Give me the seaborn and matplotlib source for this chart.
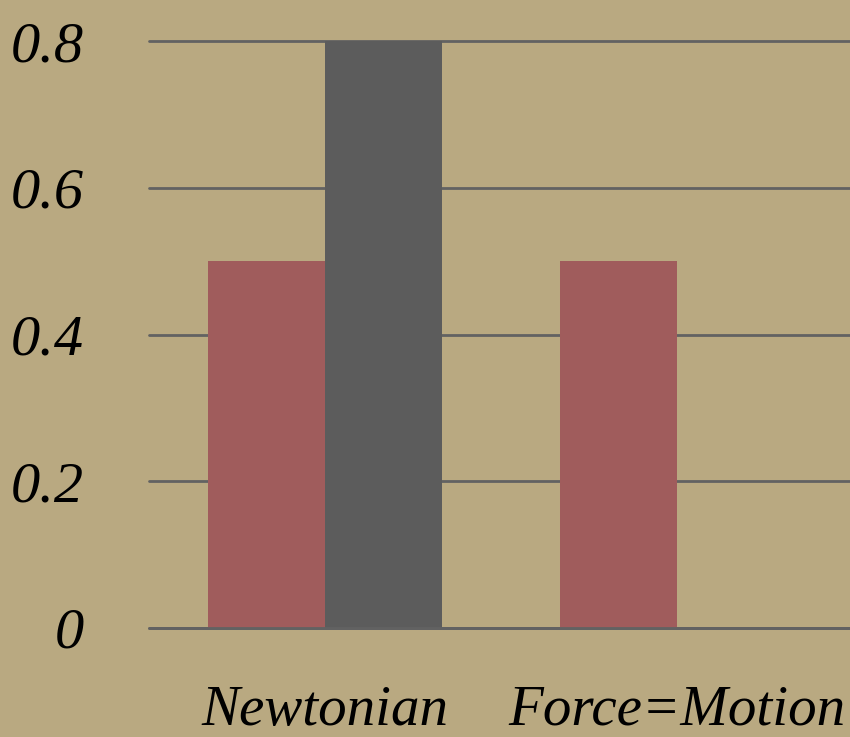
import matplotlib
matplotlib.use("Agg")
import matplotlib.pyplot as plt
import seaborn as sns
import pandas as pd

# Share of responses per model, two groups of respondents
categories = ["Newtonian", "Force=Motion"]
group_a = [0.5, 0.5]
group_b = [0.8, 0.0]
y_ticks = [0, 0.2, 0.4, 0.6, 0.8]
y_tick_labels = ["0", "0.2", "0.4", "0.6", "0.8"]

df = pd.DataFrame({
    "model": categories * 2,
    "group": ["A"] * len(categories) + ["B"] * len(categories),
    "share": group_a + group_b,
})

sns.set_theme(style="white")
plt.rcParams["font.family"] = ["Liberation Serif", "DejaVu Serif"]

bg = "#b9a981"
fig = plt.figure(figsize=(8.5, 7.37), dpi=100, facecolor=bg)
ax = fig.add_axes([149 / 850, 109 / 737, 704 / 850, 587 / 737])
ax.set_facecolor(bg)

sns.barplot(data=df, x="model", y="share", hue="group", order=categories,
            palette=["#a05c5c", "#5c5c5c"], width=2 / 3, saturation=1,
            edgecolor="none", linewidth=0, legend=False, ax=ax, zorder=3)

ax.set_xlim(-0.5, 1.5)
ax.set_ylim(0, 0.8)
ax.set_yticks(y_ticks)
ax.set_yticklabels(y_tick_labels)
ax.yaxis.grid(True, color="#626262", linewidth=2.0, zorder=1)
for gl in ax.get_ygridlines():
    gl.set_clip_on(False)
ax.set_axisbelow(True)
# baseline drawn over the bar bottoms
ax.axhline(0, color="#626262", linewidth=2.0, zorder=4, clip_on=False)
for s in ax.spines.values():
    s.set_visible(False)
ax.tick_params(axis="y", length=0, pad=47, labelsize=42)
ax.tick_params(axis="x", length=0, pad=41, labelsize=41)
for lab in ax.get_yticklabels() + ax.get_xticklabels():
    lab.set_fontstyle("italic")
    lab.set_color("black")
ax.set_xlabel("")
ax.set_ylabel("")

fig.savefig("out.png", dpi=100, facecolor=bg)
